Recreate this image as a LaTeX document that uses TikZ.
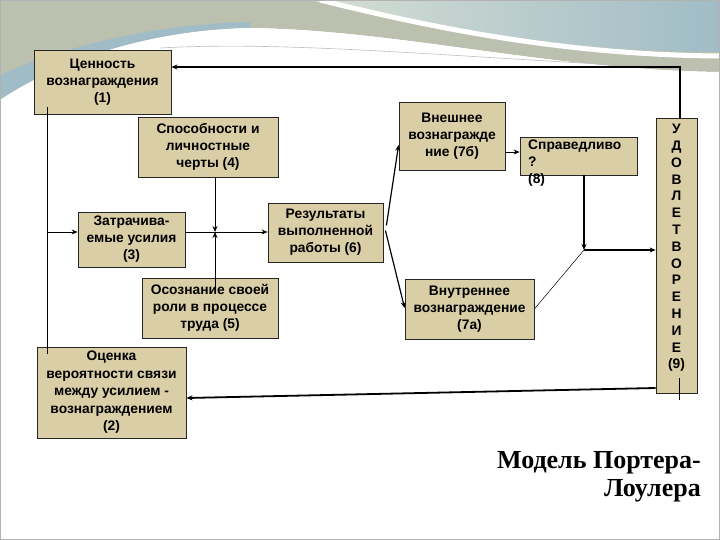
\documentclass[tikz,border=0pt]{standalone}
\usepackage{fontspec}
\setmainfont{Liberation Sans}
\newfontfamily\titlefont{Liberation Serif}
\usetikzlibrary{arrows.meta}
\definecolor{boxfill}{RGB}{218,206,166}
\definecolor{olivegray}{RGB}{188,192,174}
\definecolor{tealband}{RGB}{160,188,198}
\definecolor{lightteal}{RGB}{214,222,212}
\begin{document}
\begin{tikzpicture}[x=1pt,y=-1pt,
  box/.style={draw=black!85, line width=0.8pt, fill=boxfill, align=center,
    inner sep=1pt, font=\bfseries\fontsize{13.8}{17}\selectfont},
  conn/.style={line width=0.8pt},
  heavy/.style={line width=1.8pt},
  arr/.style={-{Stealth[length=6pt,width=5pt]}}]
\useasboundingbox (0,0) rectangle (720,540);
% background decoration
\fill[white] (0,0) rectangle (720,540);
\fill[olivegray] (0,0) -- (720,0) -- (720,72)
  .. controls (550,70) and (400,30) .. (250,28)
  .. controls (150,30) and (60,60) .. (0,100) -- cycle;
\fill[tealband] (0,100) .. controls (60,60) and (150,30) .. (250,28)
  -- (250,22) .. controls (150,24) and (60,48) .. (0,75) -- cycle;
\shade[left color=lightteal, right color=tealband] (310,0)
  .. controls (430,28) and (560,52) .. (720,52) -- (720,0) -- cycle;
\fill[white] (0,110) -- (0,100) .. controls (60,60) and (150,30) .. (250,28)
  .. controls (400,30) and (550,70) .. (720,72) -- (720,110) -- cycle;
\draw[white, line width=5pt] (320,0) .. controls (440,30) and (570,55) .. (720,56);
\draw[black!25, line width=0.6pt] (160,48) .. controls (300,40) and (480,60) .. (720,70);
\draw[gray!60, line width=1pt] (0.5,0.5) rectangle (719.5,539.5);
% boxes
\node[box, minimum width=137pt, minimum height=64pt] (b1) at (102.5,82) {Ценность\\вознаграждения\\(1)};
\node[box, minimum width=140pt, minimum height=60pt] (b4) at (208,147) {Способности и\\личностные\\черты (4)};
\node[box, minimum width=106pt, minimum height=68pt] (b7b) at (452,136) {Внешнее\\вознагражде\\ние (7б)};
\node[box, minimum width=117pt, minimum height=38pt] (b8) at (578.5,156) {};
\node[anchor=north west, align=left, inner sep=0pt, font=\bfseries\fontsize{13.8}{17}\selectfont] (b8t) at (528,140) {Справедливо\\?\\(8)};
\node[box, minimum width=115pt, minimum height=59pt] (b6) at (325.5,232.5) {Результаты\\выполненной\\работы (6)};
\node[box, minimum width=107pt, minimum height=55pt] (b3) at (131.5,239.5) {Затрачива-\\емые усилия\\(3)};
\node[box, minimum width=136pt, minimum height=60pt] (b5) at (210,308) {Осознание своей\\роли в процессе\\труда (5)};
\node[box, minimum width=129pt, minimum height=60pt] (b7a) at (469.5,309) {Внутреннее\\вознаграждение\\(7а)};
\node[box, minimum width=149pt, minimum height=91pt, font=\bfseries\fontsize{13.8}{17.5}\selectfont] (b2) at (111.5,392.5) {Оценка\\вероятности связи\\между усилием -\\вознаграждением\\(2)};
\node[box, minimum width=41pt, minimum height=275pt] (b9) at (676.5,255.5) {};
\node[align=center, inner sep=0pt, font=\bfseries\fontsize{13.8}{16.8}\selectfont] (b9t) at ([yshift=7.5pt]b9.center)
  {У\\Д\\О\\В\\Л\\Е\\Т\\В\\О\\Р\\Е\\Н\\И\\Е\\(9)};
% title
\node[anchor=north east, align=right, inner sep=0pt, font=\titlefont\bfseries\fontsize{26}{28}\selectfont] (title) at (701,451) {Модель Портера-\\Лоулера};
% connectors
\coordinate (topR) at (680,67);
\draw[heavy, arr] ([xshift=3.5pt]b9.north) |- (b1.east |- topR);
\coordinate (L1) at (47,107);
\coordinate (L2) at (47,354);
\draw[conn] (L1) -- (L2);
\coordinate (L3) at (47,232);
\draw[conn, arr] (L3) -- (b3.west |- L3);
\draw[conn, arr] (b3.east |- L3) -- (b6.west |- L3);
\coordinate (X) at (215,232);
\coordinate (X5) at (215,290);
\draw[conn, arr] (b4.south -| X) -- (X);
\draw[conn, arr] (X5) -- (X);
\draw[line width=1.2pt, arr] ([xshift=3pt,yshift=7pt]b6.east) -- ([yshift=-9pt]b7b.west);
\draw[line width=1.2pt, arr] ([xshift=2pt,yshift=2pt]b6.east) -- ([yshift=1pt]b7a.west);
\draw[conn, arr] ([yshift=-16pt]b7b.east) coordinate (e7) -- (b8.west |- e7);
\coordinate (J) at (584,250);
\draw[heavy, arr] (b8.south -| J) -- (J);
\draw[heavy, arr] (J) -- (b9.west |- J);
\draw[line width=0.5pt] (b7a.east) -- (J);
\draw[heavy, arr] ([yshift=-132.5pt]b9.west) -- ([yshift=-5.5pt]b2.east);
\coordinate (B9) at (679,400);
\draw[conn] ([xshift=2.5pt,yshift=15pt]b9.south) -- (B9);
\end{tikzpicture}
\end{document}
